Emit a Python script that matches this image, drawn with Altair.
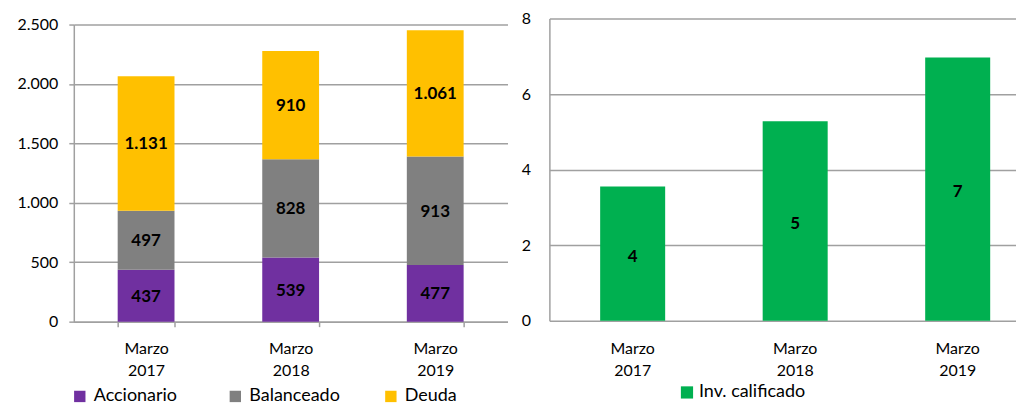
import altair as alt
import pandas as pd

# ---- data ----
categories = ["Marzo 2017", "Marzo 2018", "Marzo 2019"]
series = ["Accionario", "Balanceado", "Deuda"]
accionario = [437, 539, 477]
balanceado = [497, 828, 913]
deuda = [1131, 910, 1061]
inv_series = ["Inv. calificado"]
inv_calificado = [3.55, 5.28, 6.97]
left_ticks = [0, 500, 1000, 1500, 2000, 2500]
right_ticks = [0, 2, 4, 6, 8]

colors = ["#7030A0", "#808080", "#FFC000"]
green = "#00B050"
FONT = "Lato"
GRID = "#A0A0A0"
TXT = "#000000"

rows = []
for i, c in enumerate(categories):
    for k, (s, vals) in enumerate(zip(series, [accionario, balanceado, deuda])):
        rows.append({"cat": c, "serie": s, "orden": k, "valor": vals[i],
                     "etiqueta": f"{vals[i]:,}".replace(",", ".")})
left_df = pd.DataFrame(rows)
right_df = pd.DataFrame({"cat": categories, "serie": inv_series * len(categories),
                         "valor": inv_calificado})

# ---- left chart (stacked) ----
xL = alt.X("cat:N", sort=categories, title=None,
           scale=alt.Scale(paddingInner=0.607, paddingOuter=0.3035),
           axis=alt.Axis(labelAngle=0, labelExpr="split(datum.label, ' ')",
                         labelLineHeight=22, labelFontSize=16, labelFont=FONT,
                         labelColor=TXT, labelPadding=14, tickBand="extent",
                         ticks=True, tickSize=5, tickColor=GRID, tickWidth=1.5,
                         domainColor=GRID, domainWidth=1.5, grid=False))

yL = alt.Y("valor:Q", stack="zero", title=None,
           scale=alt.Scale(domain=[0, 2500], range=[304, 6], nice=False),
           axis=alt.Axis(values=left_ticks,
                         labelExpr="replace(format(datum.value, ','), ',', '.')",
                         labelFontSize=16, labelFont=FONT, labelColor=TXT,
                         labelPadding=11, ticks=True, tickSize=5, tickColor=GRID,
                         tickWidth=1.5, domainColor=GRID, domainWidth=1.5,
                         grid=True, gridColor=GRID, gridWidth=1.5))

bars_left = alt.Chart(left_df).mark_bar().encode(
    x=xL, y=yL,
    color=alt.Color("serie:N", scale=alt.Scale(domain=series, range=colors),
                    legend=alt.Legend(title=None, orient="none", direction="horizontal",
                                      columns=3, gridAlign="all", columnPadding=42,
                                      legendX=-3, legendY=370, symbolType="square",
                                      symbolSize=130, symbolStrokeWidth=0,
                                      labelFontSize=18, labelFont=FONT, labelColor=TXT,
                                      labelOffset=5, padding=0)),
    order=alt.Order("orden:Q"),
)

text_left = alt.Chart(left_df).transform_stack(
    stack="valor", groupby=["cat"], sort=[alt.SortField("orden")], as_=["v0", "v1"]
).transform_calculate(mid="(datum.v0 + datum.v1) / 2").mark_text(
    font=FONT, fontSize=17, fontWeight="bold", color=TXT, baseline="middle", dy=1
).encode(x=alt.X("cat:N", sort=categories), y=alt.Y("mid:Q"), text="etiqueta:N")

left = alt.layer(bars_left, text_left).properties(width=435, height=304)

# ---- right chart ----
xR = alt.X("cat:N", sort=categories, title=None,
           scale=alt.Scale(paddingInner=0.6, paddingOuter=0.2356, align=0.663),
           axis=alt.Axis(labelAngle=0, labelExpr="split(datum.label, ' ')",
                         labelLineHeight=22, labelFontSize=16, labelFont=FONT,
                         labelColor=TXT, labelPadding=20, ticks=False,
                         domain=False, grid=False))
yR = alt.Y("valor:Q", title=None, scale=alt.Scale(domain=[0, 8], nice=False),
           axis=alt.Axis(values=right_ticks, labelFontSize=16, labelFont=FONT,
                         labelColor=TXT, labelPadding=19, ticks=False,
                         domainColor=GRID, domainWidth=1.5,
                         grid=True, gridColor=GRID, gridWidth=1.5))

bars_right = alt.Chart(right_df).mark_bar().encode(
    x=xR, y=yR,
    color=alt.Color("serie:N", scale=alt.Scale(domain=inv_series, range=[green]),
                    legend=alt.Legend(title=None, orient="none", legendX=129, legendY=366,
                                      symbolType="square", symbolSize=150,
                                      symbolStrokeWidth=0, labelFontSize=18,
                                      labelFont=FONT, labelColor=TXT, labelOffset=3,
                                      padding=0)),
)
text_right = alt.Chart(right_df).transform_calculate(
    mid="datum.valor / 2"
).mark_text(font=FONT, fontSize=17, fontWeight="bold", color=TXT, baseline="middle",
            dy=3).encode(
    x=alt.X("cat:N", sort=categories), y=alt.Y("mid:Q"),
    text=alt.Text("valor:Q", format=".0f"))

right = alt.layer(bars_right, text_right).properties(width=468, height=303)

chart = alt.hconcat(left, right, spacing=42, bounds="flush").resolve_scale(
    color="independent", x="independent", y="independent"
).configure_view(stroke=None).properties(
    padding={"left": 9, "top": 2, "right": 0, "bottom": 0}
)

chart.save("out.html", embed_options={"renderer": "svg", "actions": False})
